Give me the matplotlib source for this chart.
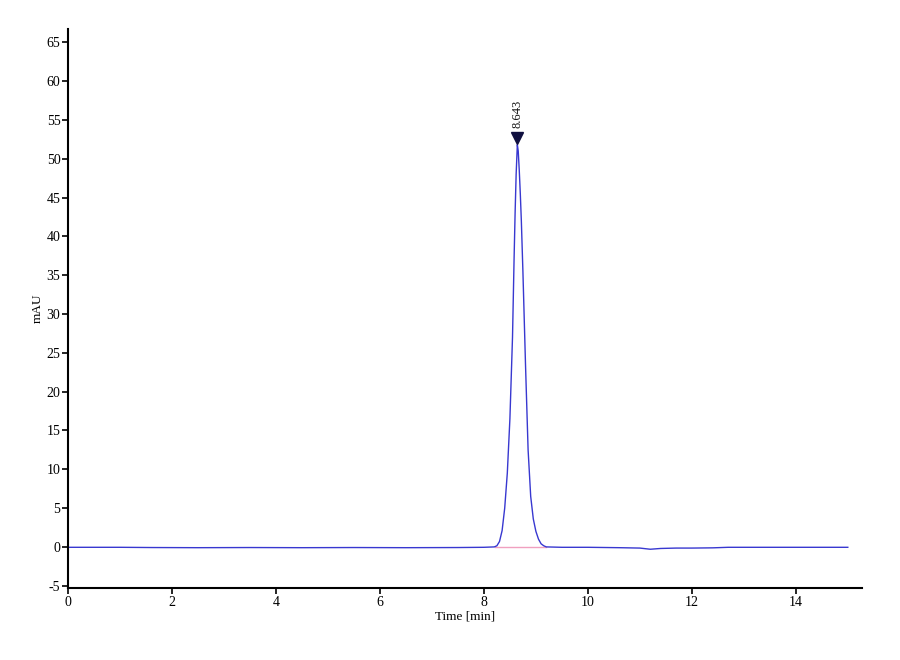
import matplotlib
matplotlib.use('Agg')
import matplotlib.pyplot as plt

plt.rcParams['font.family'] = ['Liberation Serif', 'DejaVu Serif']
plt.rcParams['axes.unicode_minus'] = False

# chromatogram trace
time_min = [0.0, 1.0, 1.6, 2.5, 3.5, 4.5, 5.5, 6.5, 7.5, 8.0, 8.20, 8.25, 8.30, 8.35,
            8.40, 8.45, 8.50, 8.55, 8.58, 8.60, 8.62, 8.643, 8.66, 8.68, 8.70, 8.72,
            8.75, 8.80, 8.85, 8.90, 8.95, 9.00, 9.05, 9.10, 9.15, 9.20, 9.5, 10.0,
            10.6, 11.0, 11.2, 11.4, 11.7, 12.0, 12.4, 12.7, 13.2, 13.8, 14.4, 15.0]
signal = [-0.05, -0.05, -0.08, -0.1, -0.08, -0.1, -0.08, -0.1, -0.08, -0.05, 0.0, 0.15,
          0.7, 2.1, 5.0, 9.5, 16.5, 27.0, 37.0, 43.0, 48.0, 51.8, 51.0, 48.5, 45.5,
          42.0, 35.5, 23.5, 12.5, 6.5, 3.6, 2.0, 1.0, 0.4, 0.15, 0.0, -0.05, -0.05,
          -0.1, -0.15, -0.3, -0.2, -0.15, -0.15, -0.12, -0.05, -0.05, -0.05, -0.05, -0.05]

# integration baseline under the peak
base_t = [8.22, 9.20]
base_y = [0.0, 0.0]

peak_rt = 8.643
peak_h = 51.8

x_ticks = [0, 2, 4, 6, 8, 10, 12, 14]
y_ticks = list(range(-5, 70, 5))

fig = plt.figure(figsize=(9, 6.6), dpi=100)
ax = fig.add_axes([0.0756, 0.109, 0.882, 0.847])

ax.plot(base_t, base_y, color='#f0a0c0', lw=1.0)
ax.plot(time_min, signal, color='#3838d0', lw=1.0)

# peak marker and retention time label
ax.plot([peak_rt], [peak_h + 0.9], marker='v', color='#101040', markersize=8, ls='none')
ax.text(peak_rt, peak_h + 2.2, '8.643', rotation=90, ha='center', va='bottom',
        fontsize=9, color='#101010')

ax.set_xlim(0, 15.27)
ax.set_ylim(-5.3, 66.7)
ax.set_xticks(x_ticks)
ax.set_yticks(y_ticks)
ax.tick_params(axis='both', direction='out', length=4, width=1.2, labelsize=10, pad=1.5)

ax.spines['top'].set_visible(False)
ax.spines['right'].set_visible(False)
ax.spines['left'].set_linewidth(1.5)
ax.spines['bottom'].set_linewidth(1.5)

ax.set_xlabel('Time [min]', fontsize=9.5, labelpad=1)
ax.set_ylabel('mAU', fontsize=9.5, labelpad=2)

fig.savefig('out.png', dpi=100, facecolor='white')
